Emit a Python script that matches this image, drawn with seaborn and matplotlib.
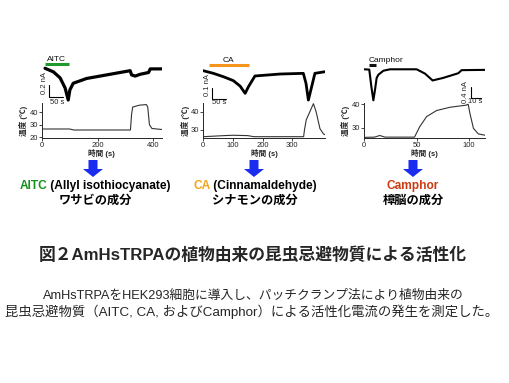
import matplotlib
matplotlib.use("Agg")
import matplotlib.pyplot as plt
import seaborn as sns
from matplotlib.patches import FancyArrow

sns.set_style("ticks")
FAM = ['Liberation Sans', 'Noto Sans CJK JP', 'DejaVu Sans']
plt.rcParams['font.family'] = FAM

# ---------------- data ----------------
# Panel 1: AITC
aitc_cur_t = [12, 42, 66, 84, 95, 101, 113, 161, 317, 322, 335, 353, 383, 389, 430]
aitc_cur_i = [0, -0.06, -0.16, -0.33, -0.53, -0.36, -0.25, -0.17, -0.04, -0.11, -0.13, -0.10, -0.07, -0.01, -0.01]
aitc_tmp_t = [0, 100, 115, 318, 322, 326, 350, 375, 380, 386, 395, 430]
aitc_tmp_v = [26.6, 26.6, 25.8, 25.8, 38, 44, 45.5, 46, 44, 30, 27, 26.2]

# Panel 2: CA
ca_cur_t = [0, 34, 68, 101, 124, 141, 152, 174, 259, 337, 346, 354, 365, 376, 410]
ca_cur_i = [0, -0.024, -0.055, -0.09, -0.14, -0.206, -0.146, -0.048, -0.03, -0.024, -0.115, -0.267, -0.146, -0.024, -0.009]
ca_tmp_t = [0, 70, 100, 150, 170, 338, 341, 347, 371, 380, 393, 405, 412]
ca_tmp_v = [26, 26.6, 26.8, 26.6, 26, 26, 30, 35.5, 44.5, 40, 30.5, 27.5, 27]

# Panel 3: Camphor
cam_cur_t = [0, 5, 7, 8.9, 10.5, 12, 13.6, 18.4, 24.7, 50, 58, 65.2, 75, 89.6, 92.8, 115]
cam_cur_i = [0, -0.01, -0.6, -1.07, -0.7, -0.3, -0.19, -0.05, 0, 0, -0.15, -0.385, -0.3, -0.136, -0.03, -0.02]
cam_tmp_t = [0, 10, 15, 20, 48, 53, 59.5, 69, 81.7, 97, 99, 100.7, 104, 108.6, 115]
cam_tmp_v = [25.8, 25.9, 26.6, 25.9, 25.9, 30.4, 34.7, 37.3, 38.7, 39.6, 40, 36, 29.7, 27.3, 26.7]

compounds = ["AITC", "CA", "Camphor"]
compound_colors = ["#1f9a2f", "#f7941d", "#111111"]
text_colors = ["#14901c", "#f5a31a", "#cc3a12"]
full_names = [" (Allyl isothiocyanate)", " (Cinnamaldehyde)", ""]
sources = ["ワサビの成分", "シナモンの成分", "樟脳の成分"]
x_ticks = [[0, 200, 400], [0, 100, 200, 300], [0, 50, 100]]
y_ticks = [[20, 30, 40], [30, 40], [30, 40]]
scale_nA = ["0.2 nA", "0.1 nA", "0.4 nA"]
scale_s = ["50 s", "50 s", "10 s"]
title = "図２AmHsTRPAの植物由来の昆虫忌避物質による活性化"
desc = ["AmHsTRPAをHEK293細胞に導入し、パッチクランプ法により植物由来の",
        "昆虫忌避物質（AITC, CA, およびCamphor）による活性化電流の発生を測定した。"]

# ---------------- layout ----------------
W, H = 510, 383
fig = plt.figure(figsize=(W / 100, H / 100), dpi=100)


def rect(l, r, t, b):
    return [l / W, 1 - b / H, (r - l) / W, (b - t) / H]


panels = [
    dict(xl=(41.7, 161.7), xlim=(0, 430), tylim=(19.2, 47.0), cylim=(-0.613, 0.222),
         cur=(aitc_cur_t, aitc_cur_i), tmp=(aitc_tmp_t, aitc_tmp_v), lw=2.3,
         bar=(12, 98, 0.072), lab=(53, 0.155, 'center'),
         sb=dict(x=27, y0=-0.28, y1=-0.48, dx=50, tx=9, ty=-0.25, sx=55, sy=-0.57)),
    dict(xl=(203.3, 325), xlim=(0, 410), tylim=(25.1, 44.7), cylim=(-0.312, 0.143),
         cur=(ca_cur_t, ca_cur_i), tmp=(ca_tmp_t, ca_tmp_v), lw=2.0,
         bar=(20, 154, 0.052), lab=(84, 0.097, 'center'),
         sb=dict(x=28, y0=-0.157, y1=-0.257, dx=50, tx=12.5, ty=-0.13, sx=53, sy=-0.285)),
    dict(xl=(364, 485), xlim=(0, 115), tylim=(25.4, 40.4), cylim=(-1.232, 0.493),
         cur=(cam_cur_t, cam_cur_i), tmp=(cam_tmp_t, cam_tmp_v), lw=1.5,
         bar=(5, 11.4, 0.148), lab=(4.6, 0.32, 'left'),
         sb=dict(x=101.6, y0=-0.6, y1=-1.0, dx=10, tx=96.9, ty=-0.79, sx=105.9, sy=-1.12)),
]

for i, p in enumerate(panels):
    l, r = p['xl']
    # temperature axes
    axT = fig.add_axes(rect(l, r, 103.3, 138.3))
    sns.lineplot(x=p['tmp'][0], y=p['tmp'][1], ax=axT, color='#333333', lw=0.8,
                 estimator=None, sort=False)
    axT.set_xlim(*p['xlim'])
    axT.set_ylim(*p['tylim'])
    axT.set_xticks(x_ticks[i])
    axT.set_yticks(y_ticks[i])
    sns.despine(ax=axT)
    for s in ['left', 'bottom']:
        axT.spines[s].set_linewidth(0.7)
    axT.tick_params(labelsize=5.5, length=2, width=0.6, pad=0.8)
    axT.set_xlabel('時間 (s)', fontsize=5.5, fontweight='bold', labelpad=0)
    axT.set_ylabel('温度 (℃)', fontsize=5.5, fontweight='bold', labelpad=1)

    # current axes
    axC = fig.add_axes(rect(l, r, 55, 105))
    sns.lineplot(x=p['cur'][0], y=p['cur'][1], ax=axC, color='black', lw=p['lw'],
                 estimator=None, sort=False)
    axC.set_xlim(*p['xlim'])
    axC.set_ylim(*p['cylim'])
    axC.axis('off')
    b0, b1, by = p['bar']
    axC.plot([b0, b1], [by, by], color=compound_colors[i], lw=2.2, solid_capstyle='butt')
    lx, ly, ha = p['lab']
    axC.text(lx, ly, compounds[i], fontsize=6, ha=ha, va='center', color='#111111')
    sb = p['sb']
    axC.plot([sb['x'], sb['x'], sb['x'] + sb['dx']], [sb['y0'], sb['y1'], sb['y1']],
             color='black', lw=0.8)
    axC.text(sb['tx'], sb['ty'], scale_nA[i], fontsize=5.5, rotation=90,
             ha='center', va='center')
    axC.text(sb['sx'], sb['sy'], scale_s[i], fontsize=5.5, ha='center', va='center')

# overlay in pixel coordinates for arrows and text
ov = fig.add_axes([0, 0, 1, 1])
ov.set_xlim(0, W)
ov.set_ylim(H, 0)
ov.axis('off')

arrow_x = [93, 254, 413]
for ax_ in arrow_x:
    ov.add_patch(FancyArrow(ax_, 160, 0, 17, width=9, head_width=20, head_length=8,
                            length_includes_head=True, color='#1a2cf0', lw=0))

fig.canvas.draw()
renderer = fig.canvas.get_renderer()
centers = [95, 255, 413]
for i in range(3):
    t1 = ov.text(0, 186, compounds[i], color=text_colors[i], fontsize=8.6,
                 fontweight='bold', va='center', ha='left')
    t2 = ov.text(0, 186, full_names[i], color='black', fontsize=8.6,
                 fontweight='bold', va='center', ha='left')
    w1 = t1.get_window_extent(renderer).width
    w2 = t2.get_window_extent(renderer).width if full_names[i] else 0
    x0 = centers[i] - (w1 + w2) / 2
    t1.set_x(x0)
    t2.set_x(x0 + w1)
    ov.text(centers[i], 200.5, sources[i], fontsize=8.8, fontweight='bold',
            ha='center', va='center', color='black')

ov.text(253, 255, title, fontsize=12.1, fontweight='bold', ha='center', va='center')
ov.text(253.5, 296, desc[0], fontsize=9.2, ha='center', va='center')
ov.text(251.5, 312, desc[1], fontsize=9.6, ha='center', va='center')

fig.savefig("out.png", dpi=100)
